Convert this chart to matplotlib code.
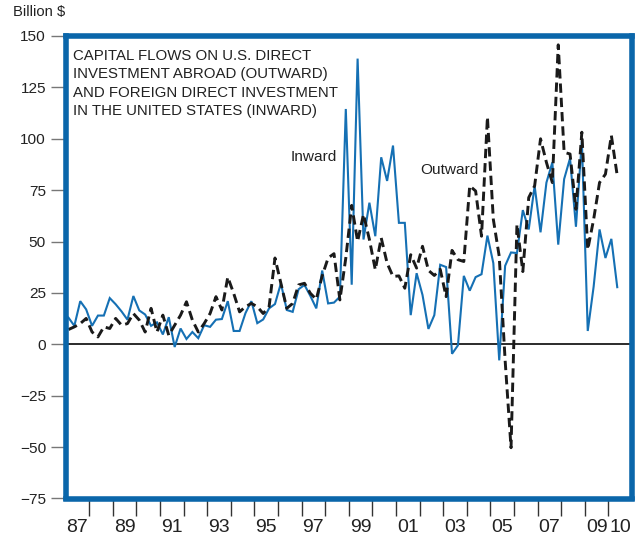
import numpy as np
import matplotlib
matplotlib.use("Agg")
import matplotlib.pyplot as plt
from matplotlib import font_manager
from matplotlib.transforms import blended_transform_factory

# ---------------- data ----------------
start_year = 1987
inward = [13, 9, 21, 17, 9, 14, 14, 22.5, 19.5, 16, 12, 23.5, 16.5, 14.5, 9, 10.7,
          4.8, 13.2, -1.3, 7.7, 2.6, 6, 3, 9.3, 8.5, 12, 12.3, 21, 6.5, 6.5, 15.2, 21,
          10.3, 12.1, 17.5, 19.6, 29.7, 16.7, 15.8, 26.8, 28.9, 23.5, 17.5, 35.9, 19.9, 20.3,
          23.2, 114.5, 29, 139, 51, 68.9, 52.6, 91, 79.5, 96.7, 59.1, 59.1, 14.2, 34.6,
          24, 7.5, 14.2, 38.7, 37.6, -4.6, -0.5, 33.3, 26.1, 32.7, 34.1, 52.9, 39.5, -7.8,
          38.2, 44.7, 44.4, 65.3, 55.9, 77.1, 54.5, 78.7, 88.5, 48.5, 80.4, 90.5, 57.2, 99.1,
          6.5, 28.1, 55.9, 42, 51.3, 27.8]
outward = [7.2, 8.5, 10.1, 12.6, 6, 3.6, 8.5, 7.7, 12.6, 9.3, 10.1, 15, 11.8, 6, 17.5, 6,
           14.2, 4.4, 9.3, 14.2, 20.7, 11.8, 6, 10.1, 15, 23.2, 16.7, 32.7, 24.8, 15.8, 18.3, 19.9,
           18.3, 15, 18.3, 42, 29.7, 17.5, 19.9, 28.9, 29.7, 24.8, 21.9, 33.3, 42, 44.1,
           21.6, 42, 67.6, 50.1, 63.2, 51, 36.3, 51.8, 39.5, 33, 33.3, 27.3, 43.6, 37.1,
           47.7, 36, 33.5, 36.5, 23.2, 45.7, 41.2, 40.3, 77.1, 74.6, 52.6, 110.6, 60.8, 42.8,
           -7.8, -50.3, 58.3, 35.4, 71.4, 77.1, 100, 88.5, 78.7, 145.7, 93.4, 92.6, 65.7, 103.2,
           46.1, 60.8, 78.7, 82.8, 101.6, 82]
y_ticks = [-75, -50, -25, 0, 25, 50, 75, 100, 125, 150]
y_labels = ["\u221275", "\u221250", "\u221225", "0", "25", "50", "75", "100", "125", "150"]
x_label_years = [1987, 1989, 1991, 1993, 1995, 1997, 1999, 2001, 2003, 2005, 2007, 2009, 2010]
x_labels = ["87", "89", "91", "93", "95", "97", "99", "01", "03", "05", "07", "09", "10"]
title_lines = ["CAPITAL FLOWS ON U.S. DIRECT",
               "INVESTMENT ABROAD (OUTWARD)",
               "AND FOREIGN DIRECT INVESTMENT",
               "IN THE UNITED STATES (INWARD)"]

# quarterly positions at quarter midpoints
n = len(inward)
t = start_year + 0.125 + 0.25 * np.arange(n)

# ---------------- fonts ----------------
def pick(names):
    for nm in names:
        try:
            font_manager.findfont(nm, fallback_to_default=False)
            return nm
        except Exception:
            pass
    return "DejaVu Sans"

regular = pick(["Liberation Sans", "Arial"])
narrow = pick(["Liberation Sans Narrow", "Arial Narrow"])
scale = 1.0
if "Narrow" not in narrow:
    narrow = regular
    scale = 0.85
plt.rcParams['font.family'] = [narrow, 'DejaVu Sans']

W, H = 639, 535
fig = plt.figure(figsize=(W / 100, H / 100), dpi=100)
L, R, T, B = 65.5, 632, 36, 498.5
ax = fig.add_axes([L / W, 1 - B / H, (R - L) / W, (B - T) / H])

blue = "#1570b4"
frame_blue = "#0a66aa"

ax.plot(t, inward, color=blue, lw=1.5, solid_joinstyle="miter", zorder=3)
ax.plot(t, outward, color="#1a1a1a", lw=2.1, dashes=(3.2, 1.7), zorder=4)
ax.axhline(0, color="#1a1a1a", lw=1.3, zorder=2)

ax.set_xlim(1987, 2011)
ax.set_ylim(-75, 150)

for s in ax.spines.values():
    s.set_color(frame_blue)
    s.set_linewidth(4.0)
    s.set_zorder(6)

ax.set_yticks(y_ticks)
ax.set_yticklabels(y_labels, fontsize=13 * scale)
ax.tick_params(axis="y", direction="out", length=11, width=1.0, color="#777777",
               pad=3, labelcolor="#222222")

ax.set_xticks(np.arange(1988, 2011))
ax.set_xticklabels([])
ax.tick_params(axis="x", which="major", direction="out", length=12, width=1.0,
               color="#333333")

# year labels centred in their year, placed by data x
tr = blended_transform_factory(ax.transData, fig.transFigure)
for yr, lab in zip(x_label_years, x_labels):
    ax.text(yr + 0.5, 1 - 532.5 / H, lab, transform=tr, fontsize=14,
            family=[regular, 'DejaVu Sans'], color="#222222",
            ha="center", va="baseline", clip_on=False)

fig.text(13 / W, 1 - 16 / H, "Billion $", fontsize=12.5 * scale, color="#222222",
         ha="left", va="baseline")

for k, line in enumerate(title_lines):
    fig.text(73 / W, 1 - (60 + 18.3 * k) / H, line, fontsize=12.7 * scale,
             color="#222222", ha="left", va="baseline")

fig.text(314 / W, 1 - 161 / H, "Inward", fontsize=13 * scale, color="#222222",
         ha="center", va="baseline")
fig.text(449 / W, 1 - 174 / H, "Outward", fontsize=13 * scale, color="#222222",
         ha="center", va="baseline")

fig.savefig("out.png", dpi=100, facecolor="white")
